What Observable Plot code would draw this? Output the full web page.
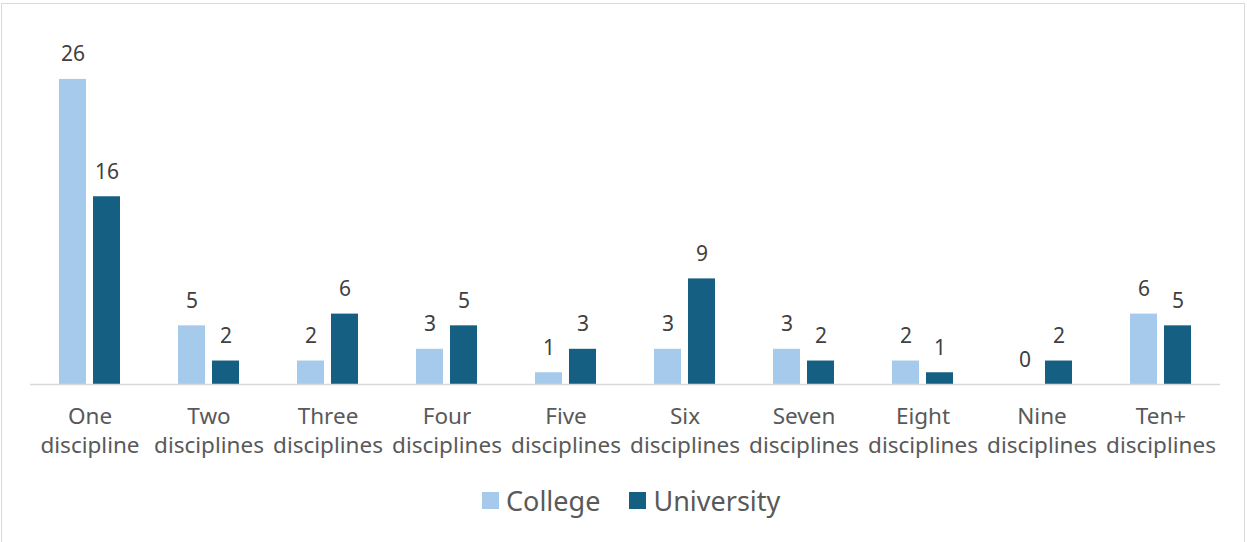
<!DOCTYPE html>
<html>
<head>
<meta charset="utf-8">
<script src="https://cdn.jsdelivr.net/npm/d3@7"></script>
<script src="https://cdn.jsdelivr.net/npm/@observablehq/plot@0.6"></script>
<style>
  html, body { margin: 0; padding: 0; background: #fff; width: 1247px; height: 542px; overflow: hidden; }
  #frame { position: absolute; left: 1px; top: 3px; width: 1244px; height: 560px; border: 1px solid #d9d9d9; box-sizing: border-box; }
  #chart { position: absolute; left: 0; top: 0; }
  #legend { position: absolute; left: 482px; top: 482px; display: flex; align-items: center; font-family: "Noto Sans", sans-serif; font-size: 27px; color: #595959; }
  .item { display: flex; align-items: center; }
  .sw { width: 17px; height: 17px; margin-right: 7px; }
</style>
</head>
<body>
<div id="frame"></div>
<div id="chart"></div>
<div id="legend"></div>
<script>
const categories = ["One discipline", "Two disciplines", "Three disciplines", "Four disciplines", "Five disciplines", "Six disciplines", "Seven disciplines", "Eight disciplines", "Nine disciplines", "Ten+ disciplines"];
const tickLabels = ["One\ndiscipline", "Two\ndisciplines", "Three\ndisciplines", "Four\ndisciplines", "Five\ndisciplines", "Six\ndisciplines", "Seven\ndisciplines", "Eight\ndisciplines", "Nine\ndisciplines", "Ten+\ndisciplines"];
const seriesNames = ["College", "University"];
const collegeValues = [26, 5, 2, 3, 1, 3, 3, 2, 0, 6];
const universityValues = [16, 2, 6, 5, 3, 9, 2, 1, 2, 5];
const seriesColors = ["#a6caec", "#156082"];

const data = [];
categories.forEach((c, i) => {
  data.push({cat: c, series: seriesNames[0], value: collegeValues[i]});
  data.push({cat: c, series: seriesNames[1], value: universityValues[i]});
});
const labelOf = new Map(categories.map((c, i) => [c, tickLabels[i]]));

const chart = Plot.plot({
  width: 1247,
  height: 470,
  marginTop: 32,
  marginBottom: 86,
  marginLeft: 30,
  marginRight: 27,
  style: {fontFamily: "'Noto Sans', sans-serif", background: "transparent"},
  fx: {domain: categories, paddingInner: 0, paddingOuter: 0},
  x: {domain: seriesNames, paddingInner: 0.206, paddingOuter: 0.853, axis: null},
  y: {domain: [0, 30], axis: null},
  color: {domain: seriesNames, range: seriesColors},
  marks: [
    Plot.barY(data, {fx: "cat", x: "series", y: "value", fill: "series"}),
    Plot.ruleY([0], {stroke: "#d9d9d9", strokeWidth: 1.5}),
    Plot.text(data, {fx: "cat", x: "series", y: "value", text: d => String(d.value), lineAnchor: "bottom", dy: -18, fontSize: 21, fill: "#404040"}),
    Plot.axisFx({anchor: "bottom", label: null, tickSize: 0, tickPadding: 19, fontSize: 22.5, lineHeight: 1.28, fill: "#595959", tickFormat: d => labelOf.get(d)})
  ]
});
document.getElementById("chart").appendChild(chart);

const legend = document.getElementById("legend");
seriesNames.forEach((s, i) => {
  const item = document.createElement("div");
  item.className = "item";
  if (i > 0) item.style.marginLeft = "29px";
  const sw = document.createElement("div");
  sw.className = "sw";
  sw.style.background = seriesColors[i];
  const t = document.createElement("span");
  t.textContent = s;
  item.appendChild(sw);
  item.appendChild(t);
  legend.appendChild(item);
});
</script>
</body>
</html>
